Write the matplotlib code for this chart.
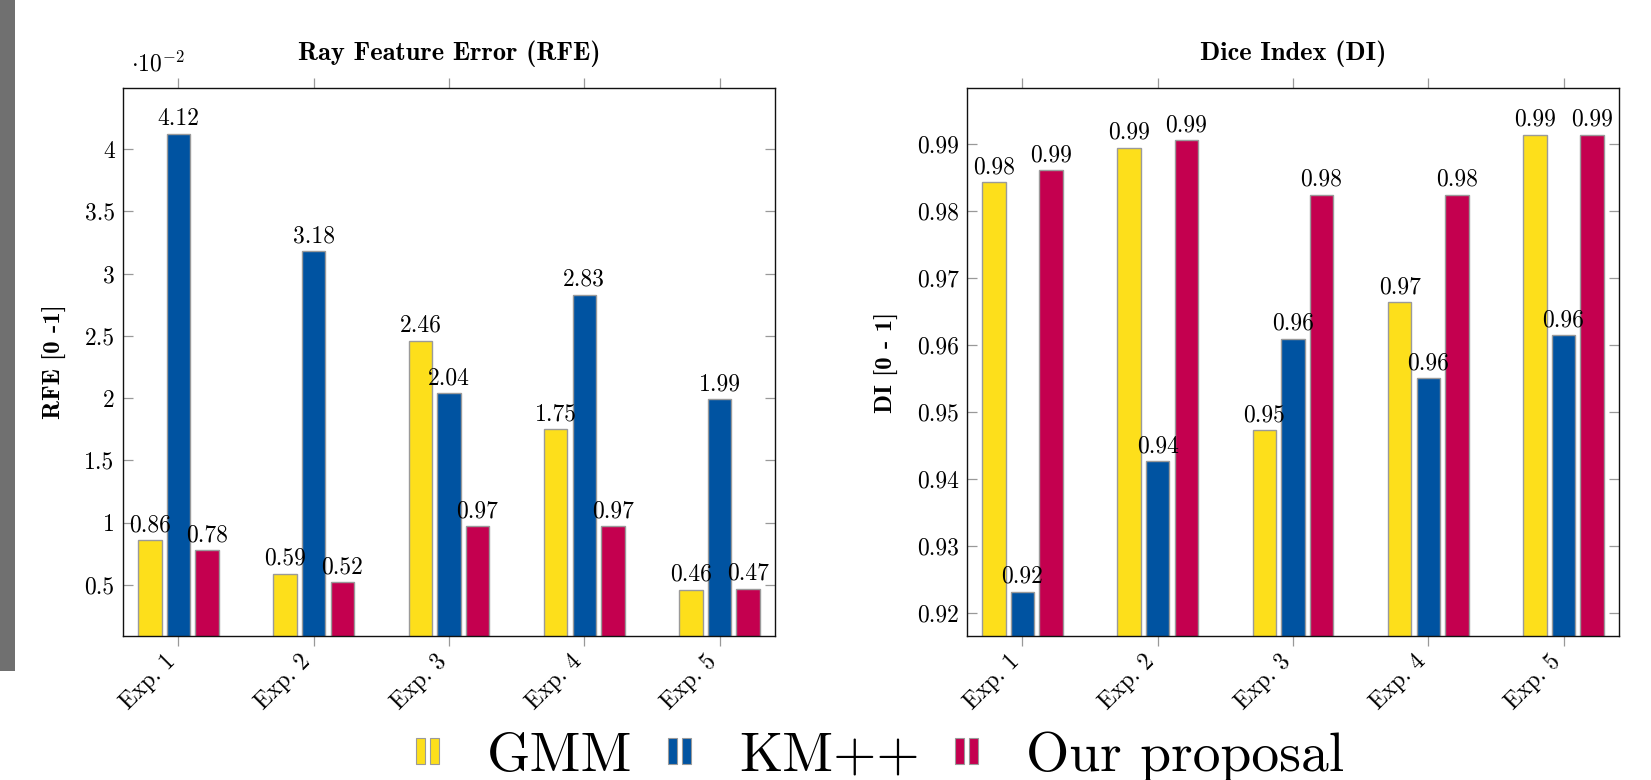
import matplotlib
matplotlib.use("Agg")
import matplotlib.pyplot as plt
import numpy as np
from matplotlib.patches import Rectangle
from matplotlib.legend_handler import HandlerBase
from matplotlib.transforms import ScaledTranslation

# ---------------- data ----------------
experiments = ["Exp. 1", "Exp. 2", "Exp. 3", "Exp. 4", "Exp. 5"]
methods = ["GMM", "KM++", "Our proposal"]

rfe_gmm = [0.86, 0.59, 2.46, 1.75, 0.46]    # x 10^-2
rfe_km = [4.12, 3.18, 2.04, 2.83, 1.99]
rfe_ours = [0.78, 0.52, 0.97, 0.97, 0.47]

di_gmm = [0.9843, 0.9895, 0.9473, 0.9664, 0.9914]
di_km = [0.9232, 0.9427, 0.9610, 0.9551, 0.9615]
di_ours = [0.9861, 0.9906, 0.9825, 0.9825, 0.9914]

rfe_ticks = [0.5, 1, 1.5, 2, 2.5, 3, 3.5, 4]
rfe_ticklabels = ["0.5", "1", "1.5", "2", "2.5", "3", "3.5", "4"]
di_ticks = [0.92, 0.93, 0.94, 0.95, 0.96, 0.97, 0.98, 0.99]
di_ticklabels = ["0.92", "0.93", "0.94", "0.95", "0.96", "0.97", "0.98", "0.99"]

colors = ["#FDDF1B", "#0053A1", "#C4004F"]
edge = "#9a9a9a"

plt.rcParams["font.family"] = ["cmr10", "DejaVu Serif"]
plt.rcParams["mathtext.fontset"] = "cm"
plt.rcParams["axes.formatter.use_mathtext"] = True

W, H = 1651, 780
fig = plt.figure(figsize=(W / 100, H / 100), dpi=100)

# gray photo strip at the left edge
fig.add_artist(Rectangle((0, 1 - 671 / H), 15 / W, 671 / H, transform=fig.transFigure,
                         facecolor="#707070", edgecolor="none"))

ax1 = fig.add_axes([123 / W, 1 - 636 / H, 652 / W, 548 / H])
ax2 = fig.add_axes([967 / W, 1 - 636 / H, 652 / W, 548 / H])

x = np.arange(len(experiments))
step = 0.211
bw = 0.174
FS = 17
BOLD = ["cmb10", "DejaVu Serif"]


def draw(ax, series, ylim, ticks, ticklabels, title, ylabel, ylabx):
    for i, (vals, c) in enumerate(zip(series, colors)):
        pos = x + (i - 1) * step
        ax.bar(pos, vals, width=bw, color=c, edgecolor=edge, linewidth=1.0, zorder=2)
        for p, v in zip(pos, vals):
            ax.annotate(f"{v:.2f}", (p, v), xytext=(0, 6.5), textcoords="offset points",
                        ha="center", va="baseline", fontsize=FS, zorder=3)
    ax.set_xlim(-0.41, 4.41)
    ax.set_ylim(*ylim)
    ax.set_xticks(x)
    ax.set_yticks(ticks)
    ax.set_yticklabels(ticklabels, fontsize=FS)
    ax.tick_params(axis="x", which="both", direction="out", top=True, bottom=True,
                   length=7.2, width=0.9, color="#999999", pad=3)
    ax.tick_params(axis="y", which="both", direction="in", left=True, right=True,
                   length=7.2, width=0.9, color="#999999", pad=6)
    ax.set_xticklabels(experiments, rotation=45, ha="right", va="top",
                       rotation_mode="anchor", fontsize=FS)
    for s in ax.spines.values():
        s.set_linewidth(1.0)
        s.set_color("#111111")
    ax.set_title(title, fontsize=19, family=BOLD, pad=20)
    ax.set_ylabel(ylabel, fontsize=18, family=BOLD)
    ax.yaxis.set_label_coords(ylabx, 0.5)


draw(ax1, [rfe_gmm, rfe_km, rfe_ours], (0.09, 4.49), rfe_ticks, rfe_ticklabels,
     "Ray Feature Error (RFE)", "RFE [0 -1]", -0.086)
draw(ax2, [di_gmm, di_km, di_ours], (0.9166, 0.9984), di_ticks, di_ticklabels,
     "Dice Index (DI)", "DI [0 - 1]", -0.104)

ax1.text(0.012, 1.03, r"$\cdot 10^{-2}$", transform=ax1.transAxes, fontsize=FS,
         ha="left", va="baseline")


class TwoBarHandler(HandlerBase):
    def create_artists(self, legend, orig_handle, xdescent, ydescent, width, height,
                       fontsize, trans):
        c = orig_handle.get_facecolor()
        w = width * 0.39
        r1 = Rectangle((-xdescent, -ydescent), w, height, facecolor=c,
                       edgecolor=edge, linewidth=0.8, transform=trans)
        r2 = Rectangle((-xdescent + width - w, -ydescent), w, height, facecolor=c,
                       edgecolor=edge, linewidth=0.8, transform=trans)
        return [r1, r2]


handles = [Rectangle((0, 0), 1, 1, facecolor=c) for c in colors]
leg = fig.legend(handles, methods, loc="center", bbox_to_anchor=(0.533, 0.030),
                 ncol=3, frameon=False, fontsize=40,
                 handler_map={Rectangle: TwoBarHandler()},
                 handlelength=0.42, handleheight=0.36, handletextpad=0.86,
                 columnspacing=0.64, borderpad=0, borderaxespad=0)

# shift the rotated category labels so their ends sit just left of the ticks
fig.canvas.draw()
shift = ScaledTranslation(-14 / 100, 0, fig.dpi_scale_trans)
for ax in (ax1, ax2):
    for lbl in ax.get_xticklabels():
        lbl.set_transform(lbl.get_transform() + shift)

fig.savefig("out.png", dpi=100)
